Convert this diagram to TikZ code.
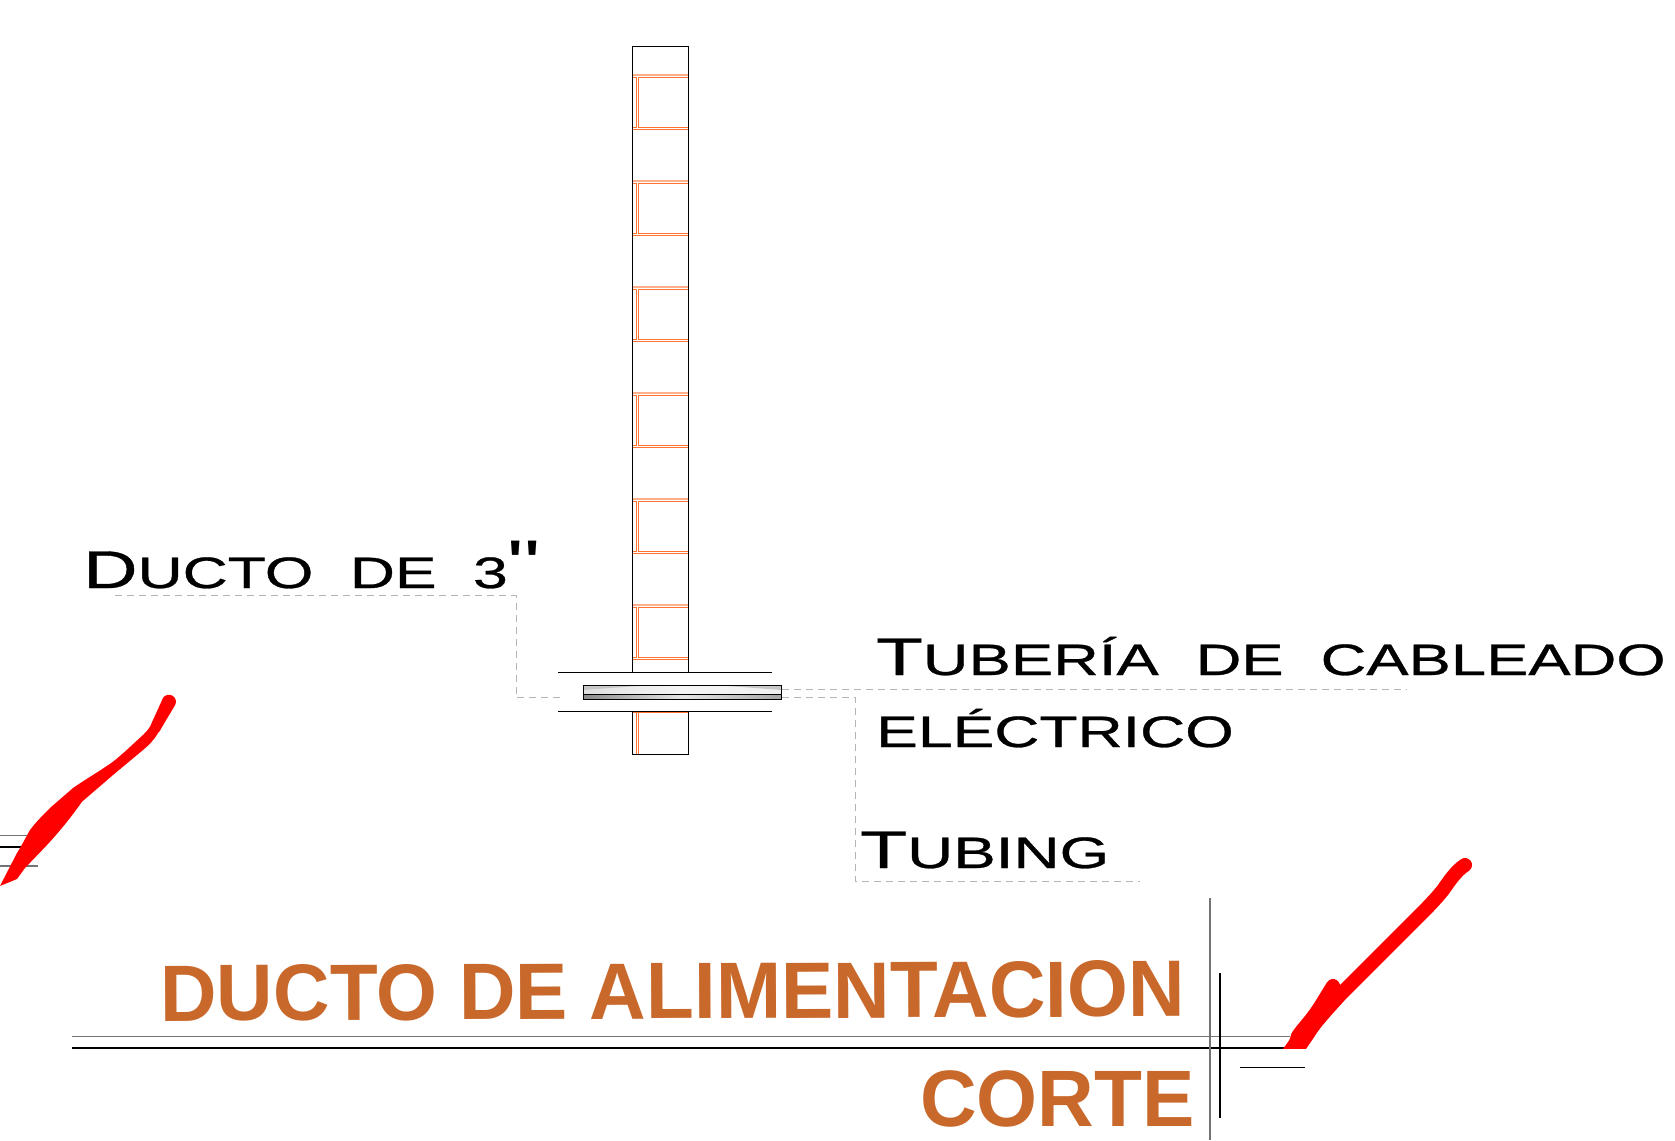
\documentclass[tikz,border=0pt]{standalone}
\usepackage{fontspec}
\setmainfont{Liberation Sans}
\newfontfamily\labfont[WordSpace=2.1,FakeBold=0.6]{Liberation Sans}
\newfontfamily\quotefont{Liberation Sans}
\definecolor{brick}{HTML}{FF7430}
\definecolor{brickl}{HTML}{FFB08A}
\definecolor{titlec}{HTML}{C9682B}
\definecolor{leader}{HTML}{B4B4B4}
\definecolor{redm}{HTML}{FF0000}
\newcommand{\bigc}[1]{{\fontsize{53}{53}\selectfont #1}}
\newcommand{\smc}[1]{{\fontsize{44}{44}\selectfont #1}}
\newcommand{\stretched}[2]{\scalebox{#1}[1]{\labfont #2}}
\tikzset{
  x=1pt,y=-1pt,
  wall/.style={draw=black,line width=1pt},
  brickline/.style={draw=brick,line width=1.1pt},
  bricksoft/.style={draw=brickl,line width=1.2pt},
  lead/.style={draw=leader,line width=1pt,dash pattern=on 7pt off 5pt},
  hair/.style={draw=black!55,line width=1.2pt},
  ink/.style={draw=black,line width=2pt},
  marker/.style={draw=redm,line width=14pt,line cap=round,line join=round},
  marksolid/.style={fill=redm,draw=none},
  labeltext/.style={anchor=base west,inner sep=0pt,text=black},
  titletext/.style={anchor=base west,inner sep=0pt,text=titlec,font=\bfseries\fontsize{80}{80}\selectfont,xscale=0.98},
}
\begin{document}
\begin{tikzpicture}
\useasboundingbox (0,0) rectangle (1675,1140);
\fill[white] (0,0) rectangle (1675,1140);
% wall
\foreach \t in {75,181,287,393,499,605}{
  \draw[bricksoft] (632.5,\t) -- (688.7,\t);
  \draw[brickline] (632.5,\t+2.7) -- (636.7,\t+2.7) -- (636.7,\t+52.5) -- (632.5,\t+52.5);
  \draw[brickline] (688.7,\t+2.7) -- (638.7,\t+2.7) -- (638.7,\t+52.5) -- (688.7,\t+52.5);
  \draw[brickline] (632.5,\t+54.5) -- (688.7,\t+54.5);
}
\draw[brickline] (632.5,712.7) -- (688.7,712.7);
\draw[brickline] (636.7,712.7) -- (636.7,754);
\draw[brickline] (638.7,712.7) -- (638.7,754);
\draw[wall] (632.5,672.3) -- (632.5,46.7) -- (688.7,46.7) -- (688.7,672.3);
\draw[wall] (632.5,711.3) -- (632.5,754) -- (688.7,754) -- (688.7,711.3);
\draw[wall] (558,672.3) -- (772,672.3);
\draw[wall] (558,711.3) -- (772,711.3);
% tube
\shade[left color=black!12,right color=black!6,middle color=black!4] (583.3,685) rectangle (781.7,694.3);
\fill[black!22] (583.3,685) -- (650,685) -- (583.3,690) -- cycle;
\fill[black!22] (781.7,685) -- (715,685) -- (781.7,690) -- cycle;
\shade[left color=black!45,right color=black!35,middle color=black!10] (583.3,694.3) rectangle (781.7,699.3);
\draw[wall] (583.3,685) rectangle (781.7,699.3);
\draw[wall] (583.3,694.3) -- (781.7,694.3);
% leaders
\draw[lead] (115,595.5) -- (516,595.5) -- (516,697.5) -- (565,697.5);
\draw[lead] (781.7,689.5) -- (1407,689.5);
\draw[lead] (781.7,697.3) -- (855,697.3) -- (855,881) -- (1140,881);
% lines
\draw[hair] (71.6,1036.7) -- (1290,1036.7);
\draw[ink] (71.6,1048.3) -- (1305,1048.3);
\draw[wall] (1240,1067.3) -- (1305,1067.3);
\draw[hair] (1210,898) -- (1210,1140);
\draw[draw=black,line width=1.8pt] (1220,973) -- (1220,1117.7);
\draw[hair] (0,835.3) -- (32,835.3);
\draw[ink] (0,846.7) -- (24,846.7);
\draw[hair] (0,866) -- (38,866);
% red left
\fill[marksolid] (0,886)
  -- (17,853)
  .. controls (22,845) and (26,837) .. (30,830)
  .. controls (36,822) and (43,815) .. (50,808)
  .. controls (58,801) and (65,795) .. (73,788)
  .. controls (86,779) and (100,771) .. (113,761.7)
  .. controls (124,753) and (133,744) .. (143,735)
  .. controls (146,732) and (148,730) .. (150,726.7)
  -- (163,698)
  arc[start angle=212,end angle=389,radius=7]
  -- (162,727)
  .. controls (160,731) and (159,732) .. (158,733)
  .. controls (154,740) and (149,745) .. (143,750)
  -- (113,775)
  -- (82,801.7)
  .. controls (72,816) and (60,831) .. (47,845)
  -- (25,868)
  -- (17,879) -- cycle;
% red right
\begin{scope}
\clip (1270,850) rectangle (1480,1048.8);
\draw[marker] (1465,865) .. controls (1456,871) and (1450,880) .. (1443,890)
  .. controls (1435,900) and (1426,909) .. (1417,918)
  -- (1380,955) -- (1340,995)
  .. controls (1330,1006) and (1318,1019) .. (1310,1030)
  .. controls (1306,1037) and (1302,1042) .. (1296,1046);
\draw[marker] (1333,986) .. controls (1326,997) and (1320,1008) .. (1313,1017)
  .. controls (1307,1025) and (1302,1030) .. (1298,1036) -- (1295,1046);
\fill[marksolid] (1283,1049) -- (1300,1025) -- (1320,1028) -- (1306,1049) -- cycle;
\end{scope}
% text
\node[labeltext] (ducto) at (83,588) {\stretched{1.42}{\bigc{D}\smc{UCTO DE 3}\raisebox{2pt}{\quotefont\fontsize{66}{66}\selectfont "}}};
\node[labeltext] (tuberia) at (876,675) {\stretched{1.44}{\bigc{T}\smc{UBERÍA DE CABLEADO}}};
\node[labeltext] (electrico) at (876,747) {\stretched{1.42}{\smc{ELÉCTRICO}}};
\node[labeltext] (tubing) at (860,868) {\stretched{1.45}{\bigc{T}\smc{UBING}}};
\node[titletext,rotate=0.25] (titulo) at (160,1021) {DUCTO DE ALIMENTACION};
\node[titletext] (corte) at (920,1126) {CORTE};
\end{tikzpicture}
\end{document}
